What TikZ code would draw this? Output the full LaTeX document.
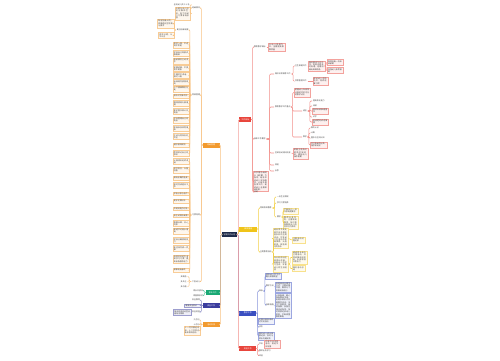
\documentclass[tikz,border=0pt]{standalone}
\usepackage{fontspec}
\newfontfamily\cjk{Noto Sans CJK SC}
\XeTeXlinebreaklocale "zh"
\XeTeXlinebreakskip=0pt plus 1pt
\usetikzlibrary{positioning}
\definecolor{rootc}{HTML}{1E2B4A}
\definecolor{redc}{HTML}{E8453C}
\definecolor{yelc}{HTML}{F0C419}
\definecolor{bluec}{HTML}{3A4FC1}
\definecolor{grnc}{HTML}{19A974}
\definecolor{navc}{HTML}{3B3D9E}
\definecolor{orac}{HTML}{F29A2E}
\newcommand{\mapfont}{\cjk\fontsize{1.1}{1.35}\selectfont}
\tikzset{
  core/.style={rectangle, fill=rootc, text=white, font=\mapfont, inner sep=0.6pt, minimum width=.3cm, minimum height=.1cm},
  br/.style={rectangle, fill=#1, text=white, font=\mapfont, inner sep=0.6pt, minimum height=.1cm, text centered},
  tp/.style={font=\mapfont, text=black!75, inner sep=0.4pt},
  bx/.style={rectangle, draw=#1!50, fill=#1!8, line width=0.15pt, font=\mapfont, text=black!75, inner sep=0.5pt, align=left},
  ln/.style={draw=#1, line width=0.3pt, rounded corners=0.6pt}
}
\begin{document}
\begin{tikzpicture}[x=0.02cm, y=-0.02cm]
	\useasboundingbox (0,0) rectangle (500,360);
	\node[core] (root) at (229.5,234.5) {学期工作计划};
	% right side
	\node[br=redc, minimum width=.24cm, anchor=west] (aim) at (239,119.5) {工作目标};
	\node[br=yelc, minimum width=.36cm, anchor=west] (way) at (239,229) {具体措施};
	\node[br=bluec, minimum width=.34cm, anchor=west] (teach) at (239,313) {教学工作};
	\node[br=redc, minimum width=.34cm, anchor=west] (misc) at (239,348.5) {其他工作};
	% left side
	\node[br=orac, minimum width=.34cm, anchor=east] (cls) at (220,145) {班级管理};
	\node[br=grnc, minimum width=.28cm, anchor=east] (home) at (220,292.5) {家长工作};
	\node[br=navc, minimum width=.34cm, anchor=east] (safe) at (220,305.5) {安全工作};
	\node[br=orac, minimum width=.34cm, anchor=east] (act) at (220,324.5) {活动安排};
	%
	\draw[ln=redc!50] (root.east) -- ++(1,0) |- (aim.west);
	\draw[ln=yelc!80] (root.east) -- ++(1,0) |- (way.west);
	\draw[ln=bluec!60] (root.east) -- ++(1,0) |- (teach.west);
	\draw[ln=redc!60] (root.east) -- ++(1,0) |- (misc.west);
	\draw[ln=orac!60] (root.west) -- ++(-1,0) |- (cls.east);
	\draw[ln=grnc!60] (root.west) -- ++(-1,0) |- (home.east);
	\draw[ln=navc!60] (root.west) -- ++(-1,0) |- (safe.east);
	\draw[ln=orac!60] (root.west) -- ++(-1,0) |- (act.east);
	% goals
	\node[tp, anchor=west] (aim1) at (253,47) {教育教学目标};
	\node[bx=redc, text width=.3cm, right=.03cm of aim1] (aim1b) {以幼儿发展为本，全面提高保教质量};
	\node[tp, anchor=west] (req) at (253,139) {具体工作要求};
	\node[tp, anchor=west] (care) at (274,74) {做好日常保育工作};
	\node[tp, anchor=west] (hyg) at (294,66) {卫生保健工作};
	\node[bx=redc, text width=.3cm, anchor=west] (hygb) at (308,66) {做好晨检午检工作，发现问题及时处理，定期消毒玩具和用品};
	\node[bx=redc, text width=.28cm, anchor=west] (hyg1) at (327,62.5) {每周消毒一次床单被褥};
	\node[bx=redc, text width=.28cm, anchor=west] (hyg2) at (327,70.5) {加强幼儿体质锻炼};
	\node[tp, anchor=west] (food) at (294,81) {饮食管理工作};
	\node[bx=redc, text width=.27cm, right=.1cm of food] (foodb) {保证幼儿吃饱吃好，培养进餐习惯};
	\node[tp, anchor=west] (edu) at (274,107) {教育教学工作重点};
	\node[bx=redc, text width=.29cm, anchor=west] (edub) at (294,92.5) {根据幼儿年龄特点制定切实可行的教学计划};
	\node[tp, anchor=west] (lang) at (302,111) {语言};
	\node[tp, anchor=west] (lang1) at (312,101) {提高表达能力};
	\node[tp, anchor=west] (lang2) at (312,106) {阅读};
	\node[bx=redc, text width=.29cm, anchor=west] (lang3) at (312,111) {喜欢听故事看图书};
	\node[tp, anchor=west] (lang4) at (312,117) {识字};
	\node[bx=redc, text width=.29cm, anchor=west] (lang5) at (312,122) {能清楚地讲述事情};
	\node[tp, anchor=west] (math) at (302,137) {数学};
	\node[tp, anchor=west] (math1) at (310,128) {数的认识};
	\node[tp, anchor=west] (math2) at (310,133) {计算};
	\node[tp, anchor=west] (math3) at (310,138) {图形与空间认知};
	\node[bx=redc, text width=.31cm, anchor=west] (math4) at (310,145) {学习简单的分类、排序和比较};
	\node[tp, anchor=west] (area) at (274,153) {区域活动材料投放};
	\node[bx=redc, text width=.27cm, anchor=west] (areab) at (293,153.5) {根据主题及时更换区域材料，满足幼儿操作需要};
	\node[tp, anchor=west] (oth1) at (274,165) {其他};
	\node[tp, anchor=west] (oth2) at (274,171) {反思};
	\node[bx=redc, text width=.27cm, anchor=west] (note) at (253,181.5) {本学期将继续以《纲要》为指导，结合本班幼儿实际情况，认真开展各项工作，促进幼儿全面和谐发展。};
	\node[tp, anchor=west] (sum) at (253,192) {总结};
	%
	\draw[ln=redc!60] (aim.east) -- ++(1,0) |- (aim1.west);
	\draw[ln=redc!60] (aim.east) -- ++(1,0) |- (req.west);
	\draw[ln=redc!60] (aim.east) -- ++(1,0) |- (note.west);
	\draw[ln=redc!60] (aim.east) -- ++(1,0) |- (sum.west);
	\draw[ln=redc!60] (aim1.east) -- (aim1b.west);
	\draw[ln=redc!60] (req.east) -- ++(3,0) |- (care.west);
	\draw[ln=redc!60] (req.east) -- ++(3,0) |- (edu.west);
	\draw[ln=redc!60] (req.east) -- ++(3,0) |- (area.west);
	\draw[ln=redc!60] (req.east) -- ++(3,0) |- (oth1.west);
	\draw[ln=redc!60] (req.east) -- ++(3,0) |- (oth2.west);
	\draw[ln=redc!60] (care.east) -- ++(1.5,0) |- (hyg.west);
	\draw[ln=redc!60] (care.east) -- ++(1.5,0) |- (food.west);
	\draw[ln=redc!60] (hyg.east) -- (hygb.west);
	\draw[ln=redc!60] (hygb.east) -- ++(1,0) |- (hyg1.west);
	\draw[ln=redc!60] (hygb.east) -- ++(1,0) |- (hyg2.west);
	\draw[ln=redc!60] (food.east) -- (foodb.west);
	\draw[ln=redc!60] (edu.east) -- ++(1,0) |- (edub.west);
	\draw[ln=redc!60] (edu.east) -- ++(1,0) |- (lang.west);
	\draw[ln=redc!60] (edu.east) -- ++(1,0) |- (math.west);
	\draw[ln=redc!60] (lang.east) -- ++(2,0) |- (lang1.west);
	\draw[ln=redc!60] (lang.east) -- ++(2,0) |- (lang2.west);
	\draw[ln=redc!60] (lang.east) -- ++(2,0) |- (lang3.west);
	\draw[ln=redc!60] (lang.east) -- ++(2,0) |- (lang4.west);
	\draw[ln=redc!60] (lang.east) -- ++(2,0) |- (lang5.west);
	\draw[ln=redc!60] (math.east) -- ++(1,0) |- (math1.west);
	\draw[ln=redc!60] (math.east) -- ++(1,0) |- (math2.west);
	\draw[ln=redc!60] (math.east) -- ++(1,0) |- (math3.west);
	\draw[ln=redc!60] (math.east) -- ++(1,0) |- (math4.west);
	\draw[ln=redc!60] (area.east) -- (areab.west);
	% measures
	\node[tp, anchor=west] (rule) at (259,208) {常规养成教育};
	\node[tp, anchor=west] (rule1) at (276,197) {一日生活常规};
	\node[tp, anchor=west] (rule2) at (276,203) {学习习惯培养};
	\node[tp, anchor=west] (rule3) at (276,217) {要求};
	\node[bx=yelc, text width=.27cm, anchor=west] (rule3a) at (283,211) {严格执行一日作息制度要求};
	\node[bx=yelc, text width=.27cm, anchor=west] (rule3b) at (283,222.5) {教师以身作则，注重随机教育，及时表扬鼓励幼儿的良好行为表现};
	\node[tp, anchor=west] (theme) at (259,252) {主题教育活动};
	\node[bx=yelc, text width=.27cm, anchor=west] (theme1) at (273,238.5) {结合季节变化和节日开展丰富多彩的主题活动，引导幼儿在活动中积极探索、大胆表现，体验成功的快乐};
	\node[bx=yelc, text width=.23cm, anchor=west] (theme1a) at (292,240) {注重活动过程记录};
	\node[bx=yelc, text width=.27cm, anchor=west] (theme2) at (273,264) {充分利用社区和家长资源，拓展幼儿的学习空间，丰富幼儿的生活经验};
	\node[bx=yelc, text width=.27cm, anchor=west] (theme2a) at (292,257.5) {邀请家长参与主题活动，共同收集相关资料，形成家园共育合力};
	\node[bx=yelc, text width=.23cm, anchor=west] (theme2b) at (292,268.5) {做好活动总结};
	%
	\draw[ln=yelc!80] (way.east) -- ++(1,0) |- (rule.west);
	\draw[ln=yelc!80] (way.east) -- ++(1,0) |- (theme.west);
	\draw[ln=yelc!80] (rule.east) -- ++(2,0) |- (rule1.west);
	\draw[ln=yelc!80] (rule.east) -- ++(2,0) |- (rule2.west);
	\draw[ln=yelc!80] (rule.east) -- ++(2,0) |- (rule3.west);
	\draw[ln=yelc!80] (rule3.east) -- ++(1,0) |- (rule3a.west);
	\draw[ln=yelc!80] (rule3.east) -- ++(1,0) |- (rule3b.west);
	\draw[ln=yelc!80] (theme.east) -- ++(0.8,0) |- (theme1.west);
	\draw[ln=yelc!80] (theme.east) -- ++(0.8,0) |- (theme2.west);
	\draw[ln=yelc!80] (theme1.east) -- (theme1a.west);
	\draw[ln=yelc!80] (theme2.east) -- ++(1.5,0) |- (theme2a.west);
	\draw[ln=yelc!80] (theme2.east) -- ++(1.5,0) |- (theme2b.west);
	% teaching
	\node[tp, anchor=west] (goal) at (258,291) {目标};
	\node[bx=bluec, text width=.29cm, anchor=west] (goal1) at (265,276) {激发幼儿学习兴趣与探索欲望};
	\node[tp, anchor=west] (meth) at (265,286) {教学方法};
	\node[bx=bluec, text width=.29cm, anchor=west] (meth1) at (275,287) {采用游戏化教学方式，注重动静交替，集体与个别相结合进行};
	\node[tp, anchor=west] (step1) at (265,305) {具体措施};
	\node[bx=bluec, text width=.29cm, anchor=west] (step1b) at (275,306) {认真备课，精心准备教具学具；利用多种形式开展教学活动，关注个体差异，因材施教；加强区域活动指导，及时观察记录幼儿表现，不断调整教育策略};
	\node[bx=bluec, text width=.29cm, anchor=west] (teach2) at (258,321) {定期开展观摩研讨交流活动};
	\node[tp, anchor=west] (eval) at (258,327) {评价};
	\node[bx=bluec, text width=.29cm, anchor=west] (teach4) at (258,336) {做好幼儿成长档案记录，及时与家长沟通反馈};
	%
	\draw[ln=bluec!60] (teach.east) -- ++(1,0) |- (goal.west);
	\draw[ln=bluec!60] (teach.east) -- ++(1,0) |- (teach2.west);
	\draw[ln=bluec!60] (teach.east) -- ++(1,0) |- (eval.west);
	\draw[ln=bluec!60] (teach.east) -- ++(1,0) |- (teach4.west);
	\draw[ln=bluec!60] (goal.east) -- ++(1,0) |- (goal1.west);
	\draw[ln=bluec!60] (goal.east) -- ++(1,0) |- (meth.west);
	\draw[ln=bluec!60] (goal.east) -- ++(1,0) |- (step1.west);
	\draw[ln=bluec!60] (meth.east) -- (meth1.west);
	\draw[ln=bluec!60] (step1.east) -- (step1b.west);
	% other work
	\node[tp, anchor=west] (fest) at (258,344) {节日};
	\node[bx=redc, text width=.27cm, right=.01cm of fest] (festb) {开展节日庆祝活动，增进节日氛围};
	\node[tp, anchor=west] (study) at (258,351) {教师业务学习};
	\node[tp, anchor=west] (env) at (258,355.5) {环创};
	%
	\draw[ln=redc!60] (misc.east) -- ++(1,0) |- (fest.west);
	\draw[ln=redc!60] (misc.east) -- ++(1,0) |- (study.west);
	\draw[ln=redc!60] (misc.east) -- ++(1,0) |- (env.west);
	\draw[ln=redc!60] (fest.east) -- (festb.west);
	% class management
	\node[tp, anchor=east] (sit) at (201,8) {班级情况};
	\node[tp, anchor=east] (sit1) at (190.5,5) {全班幼儿共三十名};
	\node[bx=orac, text width=.27cm, anchor=east] (sit2) at (190.5,13.5) {大部分幼儿已适应集体生活，但个别幼儿习惯有待加强};
	\node[tp, anchor=east] (daily) at (201,95) {常规管理};
	\node[tp, anchor=east] (sys) at (189.5,30) {建立班级制度};
	\node[bx=orac, text width=.29cm, anchor=east] (sys1) at (174,23.5) {制定班级公约，明确值日生职责与要求};
	\node[bx=orac, text width=.27cm, anchor=east] (sys2) at (174,35.5) {奖惩分明，公平公正};
	\node[bx=orac, text width=.29cm, anchor=east] (d1) at (189.5,45) {按时入园，不迟到不早退};
	\node[bx=orac, text width=.29cm, anchor=east] (d2) at (189.5,53.5) {学会自己穿脱衣服鞋袜};
	\node[bx=orac, text width=.29cm, anchor=east] (d3) at (189.5,61) {饭前便后主动洗手};
	\node[bx=orac, text width=.29cm, anchor=east] (d4) at (189.5,68.5) {安静进餐，不挑食不剩饭};
	\node[bx=orac, text width=.29cm, anchor=east] (d5) at (189.5,75.5) {午睡时不讲话，按时入睡};
	\node[bx=orac, text width=.29cm, anchor=east] (d6) at (189.5,82.5) {玩具用完放回原处};
	\node[bx=orac, text width=.29cm, anchor=east] (d7) at (189.5,89) {上下楼梯靠右行走};
	\node[bx=orac, text width=.29cm, anchor=east] (d8) at (189.5,96) {排队时不推不挤};
	\node[bx=orac, text width=.29cm, anchor=east] (d9) at (189.5,103.5) {懂得使用礼貌用语};
	\node[bx=orac, text width=.29cm, anchor=east] (d10) at (189.5,111.5) {爱护图书和公共物品};
	\node[bx=orac, text width=.29cm, anchor=east] (d11) at (189.5,120) {学会整理自己的物品};
	\node[bx=orac, text width=.29cm, anchor=east] (d12) at (189.5,128.5) {积极参加体育锻炼};
	\node[bx=orac, text width=.29cm, anchor=east] (d13) at (189.5,136.5) {主动与同伴友好交往};
	\node[bx=orac, text width=.29cm, anchor=east] (d14) at (189.5,145) {遵守游戏规则};
	\node[bx=orac, text width=.29cm, anchor=east] (d15) at (189.5,153.5) {愿意表达自己的想法};
	\node[tp, anchor=east] (habit) at (201,215) {习惯培养};
	\node[bx=orac, text width=.29cm, anchor=east] (e1) at (189.5,161.5) {认真倾听老师讲话};
	\node[bx=orac, text width=.29cm, anchor=east] (e2) at (189.5,170) {举手发言，大胆回答};
	\node[bx=orac, text width=.29cm, anchor=east] (e3) at (189.5,178) {保持正确的坐姿};
	\node[bx=orac, text width=.29cm, anchor=east] (e4) at (189.5,185.5) {按时完成值日工作};
	\node[bx=orac, text width=.29cm, anchor=east] (e5) at (189.5,193.5) {学会分享与合作};
	\node[bx=orac, text width=.29cm, anchor=east] (e6) at (189.5,201) {爱护花草树木};
	\node[bx=orac, text width=.29cm, anchor=east] (e7) at (189.5,208.5) {不随地乱扔垃圾};
	\node[bx=orac, text width=.29cm, anchor=east] (e8) at (189.5,215.5) {会主动收拾桌面};
	\node[bx=orac, text width=.29cm, anchor=east] (e9) at (189.5,223.5) {尊敬长辈，关心同伴};
	\node[bx=orac, text width=.29cm, anchor=east] (e10) at (189.5,231) {知道节约用水用电};
	\node[bx=orac, text width=.29cm, anchor=east] (e11) at (189.5,240.5) {学会正确使用剪刀};
	\node[bx=orac, text width=.29cm, anchor=east] (e12) at (189.5,248.5) {能坚持完成一件事};
	\node[bx=orac, text width=.29cm, anchor=east] (e13) at (189.5,259) {培养良好的生活和学习习惯，提高自我服务能力};
	\node[bx=orac, text width=.29cm, anchor=east] (e14) at (189.5,270) {做事有始有终};
	\node[tp, anchor=east] (indiv) at (201,281.5) {个别幼儿};
	\node[tp, anchor=east] (ind1) at (187.5,276.5) {多鼓励};
	\node[tp, anchor=east] (ind2) at (187.5,281.5) {多关注};
	\node[tp, anchor=east] (ind3) at (187.5,286.5) {多沟通};
	%
	\draw[ln=orac!60] (cls.west) -- ++(-1,0) |- (sit.east);
	\draw[ln=orac!60] (cls.west) -- ++(-1,0) |- (daily.east);
	\draw[ln=orac!60] (cls.west) -- ++(-1,0) |- (habit.east);
	\draw[ln=orac!60] (cls.west) -- ++(-1,0) |- (indiv.east);
	\draw[ln=orac!60] (sit.west) -- ++(-1,0) |- (sit1.east);
	\draw[ln=orac!60] (sit.west) -- ++(-1,0) |- (sit2.east);
	\draw[ln=orac!60] (daily.west) -- ++(-1.2,0) |- (sys.east);
	\draw[ln=orac!60] (sys.west) -- ++(-1.5,0) |- (sys1.east);
	\draw[ln=orac!60] (sys.west) -- ++(-1.5,0) |- (sys2.east);
	\draw[ln=orac!60] (daily.west) -- ++(-1.2,0) |- (d1.east);
	\draw[ln=orac!60] (daily.west) -- ++(-1.2,0) |- (d2.east);
	\draw[ln=orac!60] (daily.west) -- ++(-1.2,0) |- (d3.east);
	\draw[ln=orac!60] (daily.west) -- ++(-1.2,0) |- (d4.east);
	\draw[ln=orac!60] (daily.west) -- ++(-1.2,0) |- (d5.east);
	\draw[ln=orac!60] (daily.west) -- ++(-1.2,0) |- (d6.east);
	\draw[ln=orac!60] (daily.west) -- ++(-1.2,0) |- (d7.east);
	\draw[ln=orac!60] (daily.west) -- ++(-1.2,0) |- (d8.east);
	\draw[ln=orac!60] (daily.west) -- ++(-1.2,0) |- (d9.east);
	\draw[ln=orac!60] (daily.west) -- ++(-1.2,0) |- (d10.east);
	\draw[ln=orac!60] (daily.west) -- ++(-1.2,0) |- (d11.east);
	\draw[ln=orac!60] (daily.west) -- ++(-1.2,0) |- (d12.east);
	\draw[ln=orac!60] (daily.west) -- ++(-1.2,0) |- (d13.east);
	\draw[ln=orac!60] (daily.west) -- ++(-1.2,0) |- (d14.east);
	\draw[ln=orac!60] (daily.west) -- ++(-1.2,0) |- (d15.east);
	\draw[ln=orac!60] (habit.west) -- ++(-1.2,0) |- (e1.east);
	\draw[ln=orac!60] (habit.west) -- ++(-1.2,0) |- (e2.east);
	\draw[ln=orac!60] (habit.west) -- ++(-1.2,0) |- (e3.east);
	\draw[ln=orac!60] (habit.west) -- ++(-1.2,0) |- (e4.east);
	\draw[ln=orac!60] (habit.west) -- ++(-1.2,0) |- (e5.east);
	\draw[ln=orac!60] (habit.west) -- ++(-1.2,0) |- (e6.east);
	\draw[ln=orac!60] (habit.west) -- ++(-1.2,0) |- (e7.east);
	\draw[ln=orac!60] (habit.west) -- ++(-1.2,0) |- (e8.east);
	\draw[ln=orac!60] (habit.west) -- ++(-1.2,0) |- (e9.east);
	\draw[ln=orac!60] (habit.west) -- ++(-1.2,0) |- (e10.east);
	\draw[ln=orac!60] (habit.west) -- ++(-1.2,0) |- (e11.east);
	\draw[ln=orac!60] (habit.west) -- ++(-1.2,0) |- (e12.east);
	\draw[ln=orac!60] (habit.west) -- ++(-1.2,0) |- (e13.east);
	\draw[ln=orac!60] (habit.west) -- ++(-1.2,0) |- (e14.east);
	\draw[ln=orac!60] (indiv.west) -- ++(-2,0) |- (ind1.east);
	\draw[ln=orac!60] (indiv.west) -- ++(-2,0) |- (ind2.east);
	\draw[ln=orac!60] (indiv.west) -- ++(-2,0) |- (ind3.east);
	% parents
	\node[tp, anchor=east] (home1) at (204,290.5) {家长开放日};
	\node[tp, anchor=east] (home2) at (204,295.5) {家园联系栏};
	\draw[ln=grnc!60] (home.west) -- ++(-1,0) |- (home1.east);
	\draw[ln=grnc!60] (home.west) -- ++(-1,0) |- (home2.east);
	% safety
	\node[tp, anchor=east] (safe1) at (201,300) {安全教育};
	\node[bx=navc, text width=.29cm, anchor=east] (safe2) at (201,305.5) {增强安全意识};
	\node[tp, anchor=east] (safe3) at (201,312) {安全检查};
	\node[bx=navc, text width=.31cm, anchor=east] (safe3b) at (191,312.5) {每天检查活动室设施有无隐患};
	\draw[ln=navc!60] (safe.west) -- ++(-1,0) |- (safe1.east);
	\draw[ln=navc!60] (safe.west) -- ++(-1,0) |- (safe2.east);
	\draw[ln=navc!60] (safe.west) -- ++(-1,0) |- (safe3.east);
	\draw[ln=navc!60] (safe3.west) -- (safe3b.east);
	% activities
	\node[tp, anchor=east] (act1) at (200.5,320) {九月份};
	\node[tp, anchor=east] (act2) at (200.5,324.5) {十月份};
	\node[bx=orac, text width=.29cm, anchor=east] (act3) at (200.5,330.5) {十一月开展运动会，十二月举办新年联欢活动};
	\draw[ln=orac!60] (act.west) -- ++(-1.5,0) |- (act1.east);
	\draw[ln=orac!60] (act.west) -- ++(-1.5,0) |- (act2.east);
	\draw[ln=orac!60] (act.west) -- ++(-1.5,0) |- (act3.east);
\end{tikzpicture}
\end{document}
